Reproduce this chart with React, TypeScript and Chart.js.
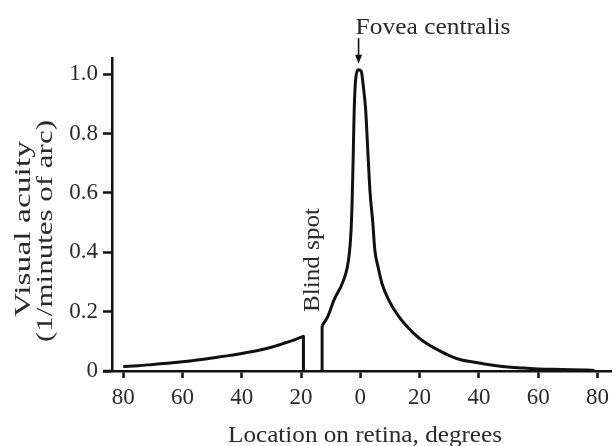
import React, { useEffect, useRef } from "react";
import { Chart, registerables } from "chart.js";

Chart.register(...registerables);

// ---- data (degrees on retina, visual acuity in 1/minutes of arc) ----
const xTickValues = [-80, -60, -40, -20, 0, 20, 40, 60, 80];
const yTickValues = [0, 0.2, 0.4, 0.6, 0.8, 1.0];

// temporal side up to the blind spot
const leftX = [-80, -75, -70, -65, -60, -55, -50, -45, -40, -35, -30, -25, -22, -19.2];
const leftY = [0.015, 0.018, 0.022, 0.026, 0.031, 0.037, 0.044, 0.051, 0.059, 0.068, 0.08, 0.096, 0.106, 0.117];

// blind spot edges
const blindSpotStart = -19.2;
const blindSpotEnd = -12.9;

// from the blind spot through the fovea to the periphery
const rightX = [-12.9, -11.0, -8.9, -6.1, -4.4, -3.6, -3.1, -2.8, -2.4, -2.1, -1.5, -0.6, 0.3, 1.0, 1.8, 2.6, 3.3, 4.2, 4.9, 6.0, 7.3, 9.6, 13, 18, 22, 26.4, 30, 34.2, 37.5, 43, 48.9, 55, 60.1, 68, 76, 79];
const rightY = [0.153, 0.183, 0.239, 0.295, 0.35, 0.407, 0.48, 0.56, 0.726, 0.87, 0.99, 1.015, 1.01, 0.96, 0.88, 0.726, 0.6, 0.5, 0.407, 0.35, 0.295, 0.239, 0.183, 0.127, 0.095, 0.07, 0.052, 0.037, 0.031, 0.022, 0.014, 0.01, 0.007, 0.005, 0.003, 0.002];

const xTitle = "Location on retina, degrees";
const yTitleLines = ["Visual acuity", "(1/minutes of arc)"];
const foveaLabel = "Fovea centralis";
const blindSpotLabel = "Blind spot";

const INK = "#111";
const TEXT = "#2a2a2a";
const SERIF = "'Liberation Serif', 'Times New Roman', Times, serif";

function pts(xs: number[], ys: number[]) {
  return xs.map((x, i) => ({ x, y: ys[i] }));
}

function fitText(
  ctx: CanvasRenderingContext2D,
  text: string,
  x: number,
  y: number,
  width: number,
  rotate: boolean
) {
  ctx.save();
  ctx.translate(x, y);
  if (rotate) ctx.rotate(-Math.PI / 2);
  const w = ctx.measureText(text).width;
  ctx.scale(width / w, 1);
  ctx.textAlign = "center";
  ctx.textBaseline = "alphabetic";
  ctx.fillText(text, 0, 0);
  ctx.restore();
}

const annotations = {
  id: "annotations",
  afterDraw(chart: any) {
    const ctx: CanvasRenderingContext2D = chart.ctx;
    const xs = chart.scales.x;
    const ys = chart.scales.y;
    const area = chart.chartArea;
    ctx.save();
    // x-axis line extends slightly left of the y axis
    ctx.strokeStyle = INK;
    ctx.lineWidth = 2.5;
    ctx.beginPath();
    ctx.moveTo(area.left - 9, area.bottom);
    ctx.lineTo(area.left, area.bottom);
    ctx.stroke();

    ctx.fillStyle = TEXT;
    ctx.font = `23px ${SERIF}`;
    // axis titles
    fitText(ctx, xTitle, 365, 442, 274, false);
    fitText(ctx, yTitleLines[0], 30, 229, 176, true);
    fitText(ctx, yTitleLines[1], 52, 231, 222, true);
    // fovea label + arrow
    let pi = 0;
    rightY.forEach((v, i) => { if (v > rightY[pi]) pi = i; });
    const px = xs.getPixelForValue(rightX[pi]);
    const py = ys.getPixelForValue(rightY[pi]);
    fitText(ctx, foveaLabel, 433, 34, 155, false);
    ctx.strokeStyle = INK;
    ctx.lineWidth = 1.6;
    ctx.beginPath();
    ctx.moveTo(px, 38);
    ctx.lineTo(px, py - 12);
    ctx.stroke();
    ctx.fillStyle = INK;
    ctx.beginPath();
    ctx.moveTo(px - 3.5, py - 15);
    ctx.lineTo(px + 3.5, py - 15);
    ctx.lineTo(px, py - 6);
    ctx.closePath();
    ctx.fill();
    // blind spot label
    ctx.fillStyle = TEXT;
    const bx = xs.getPixelForValue((blindSpotStart + blindSpotEnd) / 2);
    fitText(ctx, blindSpotLabel, bx + 6, 260, 104, true);
    ctx.restore();
  },
};

export default function App() {
  const ref = useRef<HTMLCanvasElement>(null);
  useEffect(() => {
    let chart: Chart | null = null;
    let cancelled = false;
    const line = {
      borderColor: INK,
      borderWidth: 3,
      pointRadius: 0,
      fill: false,
      borderJoinStyle: "round" as const,
    };
    const build = () => {
      if (cancelled || !ref.current) return;
      chart = new Chart(ref.current as HTMLCanvasElement, {
        type: "line",
        data: {
          datasets: [
            { ...line, data: pts(leftX, leftY), cubicInterpolationMode: "monotone" },
            { ...line, data: pts([blindSpotStart, blindSpotStart], [leftY[leftY.length - 1], 0]), tension: 0 },
            { ...line, data: pts([blindSpotEnd, blindSpotEnd], [0, rightY[0]]), tension: 0 },
            { ...line, data: pts(rightX, rightY), cubicInterpolationMode: "monotone" },
          ],
        },
        options: {
          responsive: false,
          devicePixelRatio: 1,
          animation: false,
          events: [],
          layout: { padding: { top: 58, right: 3, left: 0, bottom: 0 } },
          plugins: { legend: { display: false }, tooltip: { enabled: false } },
          scales: {
            x: {
              type: "linear",
              min: -83.8,
              max: 84.8,
              afterBuildTicks: (s: any) => {
                s.ticks = xTickValues.map((v) => ({ value: v }));
              },
              afterFit: (s: any) => {
                s.height = 75;
              },
              border: { display: true, color: INK, width: 2.5 },
              grid: { drawOnChartArea: false, drawTicks: true, tickLength: 7, tickWidth: 2.5, color: INK },
              ticks: {
                color: TEXT,
                font: { family: SERIF, size: 23 },
                padding: 6,
                maxRotation: 0,
                autoSkip: false,
                callback: (v: any) => String(Math.abs(Number(v))),
              },
            },
            y: {
              type: "linear",
              min: 0,
              max: 1.055,
              afterBuildTicks: (s: any) => {
                s.ticks = yTickValues.map((v) => ({ value: v }));
              },
              afterFit: (s: any) => {
                s.width = 112;
              },
              border: { display: true, color: INK, width: 2.5 },
              grid: { drawOnChartArea: false, drawTicks: true, tickLength: 9, tickWidth: 2.5, color: INK },
              ticks: {
                color: TEXT,
                font: { family: SERIF, size: 23 },
                padding: 5,
                autoSkip: false,
                callback: (v: any) => (Number(v) === 0 ? "0" : Number(v).toFixed(1)),
              },
            },
          },
        },
        plugins: [annotations],
      } as any);
    };
    const fontsApi: any = (document as any).fonts;
    if (fontsApi && fontsApi.load) {
      fontsApi.load(`23px 'Liberation Serif'`).then(build, build);
    } else {
      build();
    }
    return () => {
      cancelled = true;
      if (chart) chart.destroy();
    };
  }, []);
  return (
    <div style={{ position: "absolute", left: 0, top: 0, width: 615, height: 446, background: "#fff" }}>
      <span style={{ position: "absolute", left: -1000, top: 0, fontFamily: "'Liberation Serif'" }}>0</span>
      <canvas ref={ref} width={615} height={446} style={{ display: "block" }} />
    </div>
  );
}
